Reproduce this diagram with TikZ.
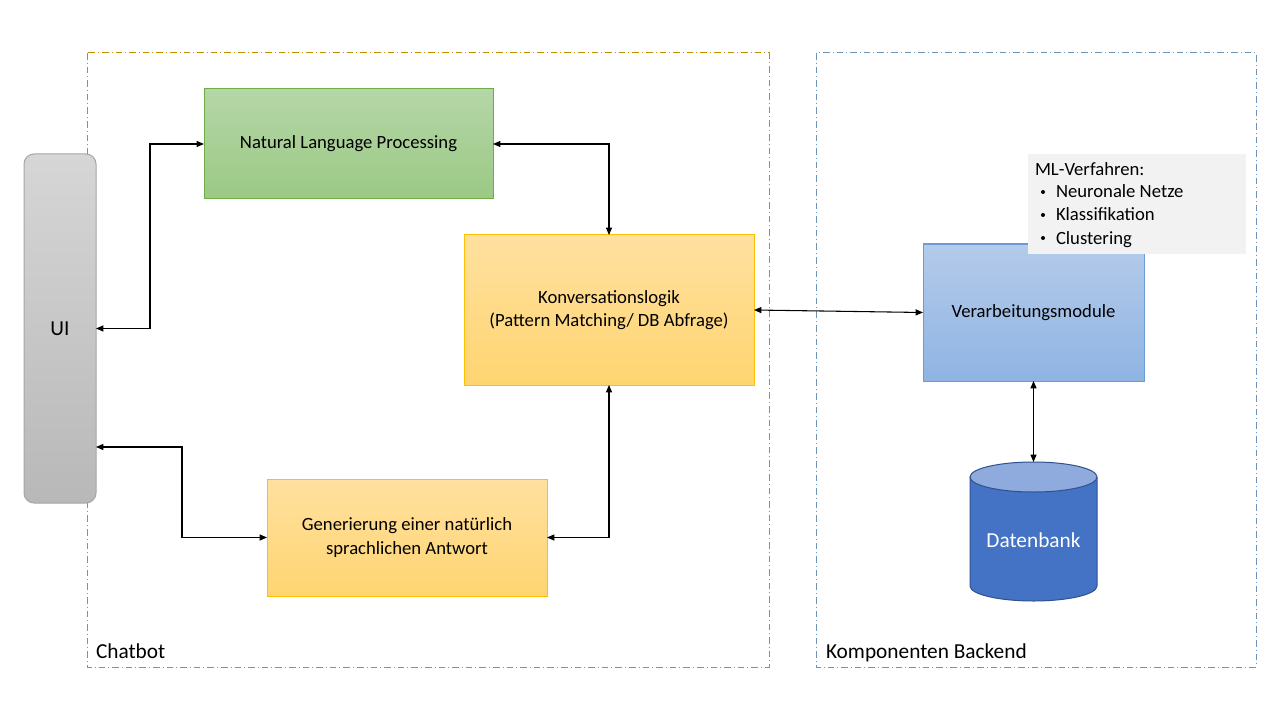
\documentclass[tikz,border=0pt]{standalone}
\usepackage{fontspec}
\setmainfont{Carlito}
\usetikzlibrary{arrows.meta,shapes.geometric}
\definecolor{gTop}{HTML}{B5D6A7}
\definecolor{gBot}{HTML}{9BC985}
\definecolor{gLine}{HTML}{70AD47}
\definecolor{oTop}{HTML}{FFE09F}
\definecolor{oBot}{HTML}{FFD571}
\definecolor{oLine}{HTML}{FFC000}
\definecolor{uTop}{HTML}{D6D6D6}
\definecolor{uBot}{HTML}{B8B8B8}
\definecolor{uLine}{HTML}{A6A6A6}
\definecolor{bTop}{HTML}{B4CBEA}
\definecolor{bBot}{HTML}{8FB4E3}
\definecolor{bLine}{HTML}{6C9BD2}
\definecolor{dbFill}{HTML}{4472C4}
\definecolor{dbTopC}{HTML}{8FAADC}
\definecolor{dbLine}{HTML}{2F528F}
\definecolor{frameA}{HTML}{BF9000}
\definecolor{frameB}{HTML}{6E94B8}
\definecolor{mlFill}{HTML}{F2F2F2}
\begin{document}
\begin{tikzpicture}[x=0.75pt,y=-0.75pt,
  every node/.style={inner sep=0pt,outer sep=0pt},
  txt/.style={font=\fontsize{14}{17.3}\selectfont,align=center},
  boxgreen/.style={draw=gLine,line width=0.75pt,top color=gTop,bottom color=gBot,txt},
  boxorange/.style={draw=oLine,line width=0.75pt,top color=oTop,bottom color=oBot,txt},
  boxblue/.style={draw=bLine,line width=0.75pt,top color=bTop,bottom color=bBot,txt},
  boxui/.style={draw=uLine,line width=0.75pt,top color=uTop,bottom color=uBot,rounded corners=7.5pt,font=\fontsize{16}{19}\selectfont},
  frame/.style={line width=0.75pt,dash pattern=on 5pt off 2.2pt on 0.8pt off 2.2pt},
  arr/.style={line width=0.8pt,{Triangle[length=5.5pt,width=4.5pt]}-{Triangle[length=5.5pt,width=4.5pt]}},
  lbl/.style={font=\fontsize{16}{19}\selectfont,anchor=base west},
  mltxt/.style={font=\fontsize{14}{17}\selectfont,anchor=base west},
  mlbul/.style={fill=black,circle,minimum size=3pt}
]
\useasboundingbox[fill=white] (0,0) rectangle (1280,720);

% frames
\draw[frame,draw=frameA] (87,53) rectangle (769,667);
\draw[frame,draw=frameB] (816,53) rectangle (1256,667);
\node[lbl] (lchat) at (96,658) {Chatbot};
\node[lbl] (lback) at (826,658) {Komponenten Backend};

% nodes
\node[boxui,minimum width=54pt,minimum height=261.75pt] (ui) at (60,328.5) {UI};
\node[boxgreen,minimum width=216.75pt,minimum height=82.5pt] (nlp) at (348.5,144) {Natural Language Processing};
\node[boxorange,minimum width=217.5pt,minimum height=112.5pt] (konv) at (609,310) {Konversationslogik\\(Pattern Matching/ DB Abfrage)};
\node[boxorange,minimum width=210pt,minimum height=87.75pt] (gen) at (407,537.5) {Generierung einer natürlich\\sprachlichen Antwort};
\node[boxblue,minimum width=165.75pt,minimum height=102.75pt] (verb) at (1033.5,312.5) {Verarbeitungsmodule};

% ML box
\node[fill=mlFill,minimum width=163.5pt,minimum height=75pt] (ml) at (1137,204) {};
\node[mltxt] (ml0) at (1035,176) {ML-Verfahren:};
\node[mlbul] (mlb1) at (1043,192) {};
\node[mltxt] (ml1) at (1056,198) {Neuronale Netze};
\node[mlbul] (mlb2) at (1043,215) {};
\node[mltxt] (ml2) at (1056,221) {Klassifikation};
\node[mlbul] (mlb3) at (1043,238) {};
\node[mltxt] (ml3) at (1056,244) {Clustering};

% database cylinder
\fill[dbFill] (970,477) -- (970,586) arc[start angle=180,end angle=360,x radius=63.5,y radius=-15] -- (1097,477) -- cycle;
\draw[dbLine,line width=0.75pt] (970,477) -- (970,586) arc[start angle=180,end angle=360,x radius=63.5,y radius=-15] -- (1097,477);
\draw[dbLine,line width=0.75pt,fill=dbTopC] (1033.5,477) ellipse[x radius=63.5,y radius=15];
\node[font=\fontsize{16}{19}\selectfont,text=white] (db) at (1033.5,540) {Datenbank};
\coordinate (dbtop) at (1033.5,462);

% connectors
\coordinate (uiB) at (96,447);
\draw[arr] (ui.east) -- ++(54,0) |- (nlp.west);
\draw[arr] (nlp.east) -| (konv.north);
\draw[arr] (konv.east) -- (verb.west);
\draw[arr] (konv.south) |- (gen.east);
\draw[arr] (uiB) -- ++(86,0) |- (gen.west);
\draw[arr] (verb.south) -- (dbtop);
\end{tikzpicture}
\end{document}
